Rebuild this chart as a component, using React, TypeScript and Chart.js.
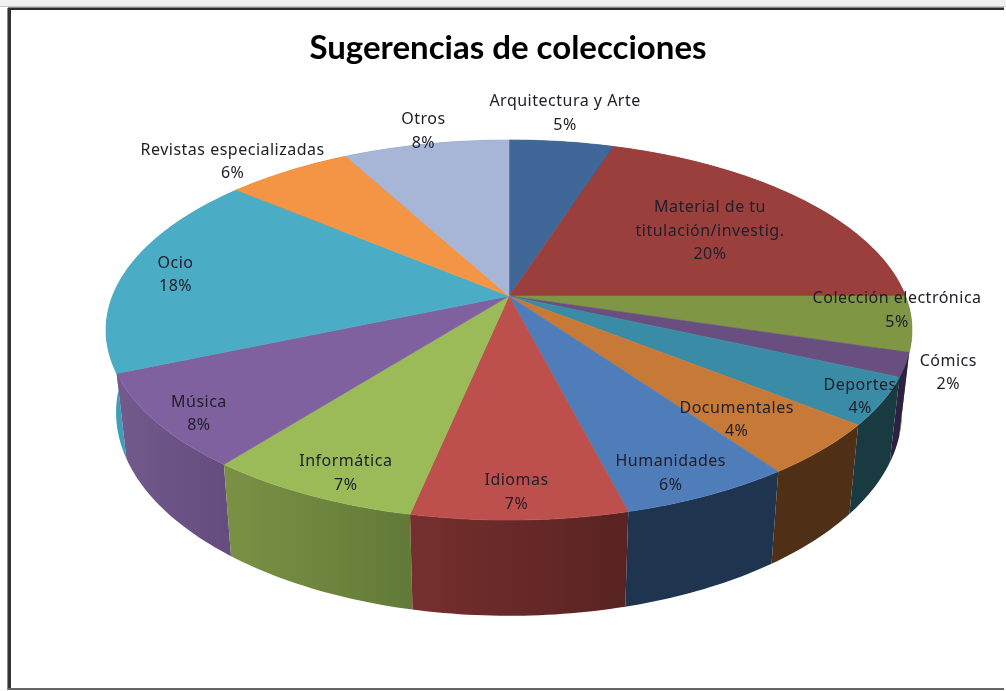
import React, { useEffect, useRef } from "react";
import { Chart, registerables } from "chart.js";

Chart.register(...registerables);

const titleText = "Sugerencias de colecciones";
const categories = [
  "Arquitectura y Arte",
  "Material de tu\ntitulación/investig.",
  "Colección electrónica",
  "Cómics",
  "Deportes",
  "Documentales",
  "Humanidades",
  "Idiomas",
  "Informática",
  "Música",
  "Ocio",
  "Revistas especializadas",
  "Otros",
];
const shares = [5, 20, 4.7, 2, 4, 4.45, 5.85, 7.3, 7.3, 8, 17.5, 6, 7.9];
const topColors = [
  "#3f6797", "#9b3f3c", "#7f9744", "#694f80", "#3a8ba5", "#c77a38", "#4f7dba",
  "#bd4f4d", "#9bbb59", "#7f619f", "#4bacc6", "#f39545", "#a7b6d6",
];
const wallStartColors = [
  "#2a4565", "#682a28", "#4f6028", "#2c2140", "#193a40", "#4f3016", "#1f344f",
  "#762f2e", "#7a9145", "#735a8c", "#3f9fb8", "#a06028", "#7080a0",
];
const wallEndColors = [
  "#2a4565", "#682a28", "#4f6028", "#2c2140", "#193a40", "#4f3016", "#1f344f",
  "#582322", "#627a38", "#654c7e", "#3a9ab0", "#a06028", "#7080a0",
];
// label block offset from the slice's mid-angle point at 3/4 radius
const labelDx = [15, -22, 88, 147, 78, 1, 19, 0, -20, -53, -45, -106, -21];
const labelDy = [-62, 10.5, -6.5, 26, 24, 13, 35, 37, 35, 26.5, -1, -37, -46];

const view = { cx: 509, cy: 296, rx: 396.5, ry: 184, tilt: 0.179 };

function project(angle: number, r: number) {
  // Chart.js arc angles start at -PI/2 (12 o'clock)
  const th = angle + Math.PI / 2;
  const u = r * Math.sin(th);
  const v = -r * Math.cos(th);
  const w = 1 - view.tilt * v;
  return { x: view.cx + (view.rx * u) / w, y: view.cy + (view.ry * v) / w };
}
function lower(p: { x: number; y: number }) {
  return { x: view.cx + 0.975 * (p.x - view.cx), y: p.y + 80 + 0.07 * (p.y - view.cy) };
}
function rim(a: number, b: number) {
  const n = Math.max(2, Math.ceil(((b - a) * 180) / Math.PI));
  const pts = [];
  for (let i = 0; i <= n; i++) pts.push(project(a + ((b - a) * i) / n, 1));
  return pts;
}

const pie3d = {
  id: "pie3d",
  beforeDraw(chart: any) {
    const { ctx, width, height } = chart;
    ctx.save();
    ctx.fillStyle = "#ffffff";
    ctx.fillRect(0, 0, width, height);
    ctx.fillStyle = "#f1f1f1";
    ctx.fillRect(0, 0, width, 6);
    ctx.fillStyle = "#c8c8c8";
    ctx.fillRect(0, 6, width, 1);
    ctx.fillStyle = "#2e2e2e";
    ctx.fillRect(8, 8, width - 10, 2);
    ctx.fillStyle = "#8a8a8a";
    ctx.fillRect(8, 7, width - 10, 1);
    ctx.fillRect(7, 8, 1, height - 9);
    ctx.fillStyle = "#333333";
    ctx.fillRect(8, 8, 3, height - 10);
    ctx.fillStyle = "#666666";
    ctx.fillRect(8, height - 3, width - 10, 2);
    ctx.restore();
  },
  beforeDatasetsDraw(chart: any) {
    const { ctx } = chart;
    const arcs = chart.getDatasetMeta(0).data;
    const total = shares.reduce((s, v) => s + v, 0);

    // side walls, back to front
    const order = arcs
      .map((_: any, i: number) => i)
      .sort((a: number, b: number) => {
        const pa = project((arcs[a].startAngle + arcs[a].endAngle) / 2, 1).y;
        const pb = project((arcs[b].startAngle + arcs[b].endAngle) / 2, 1).y;
        return pa - pb;
      });
    ctx.save();
    order.forEach((i: number) => {
      const pts = rim(arcs[i].startAngle, arcs[i].endAngle);
      const low = pts.map(lower);
      const xs = pts.concat(low).map((p) => p.x);
      const g = ctx.createLinearGradient(Math.min(...xs), 0, Math.max(...xs), 0);
      g.addColorStop(0, wallStartColors[i]);
      g.addColorStop(1, wallEndColors[i]);
      ctx.beginPath();
      pts.forEach((p, k) => (k ? ctx.lineTo(p.x, p.y) : ctx.moveTo(p.x, p.y)));
      low.reverse().forEach((p) => ctx.lineTo(p.x, p.y));
      ctx.closePath();
      ctx.fillStyle = g;
      ctx.fill();
    });

    // top faces
    arcs.forEach((arc: any, i: number) => {
      const pts = rim(arc.startAngle, arc.endAngle);
      ctx.beginPath();
      ctx.moveTo(view.cx, view.cy);
      pts.forEach((p) => ctx.lineTo(p.x, p.y));
      ctx.closePath();
      ctx.fillStyle = topColors[i];
      ctx.strokeStyle = topColors[i];
      ctx.lineWidth = 0.6;
      ctx.fill();
      ctx.stroke();
    });

    // labels
    ctx.fillStyle = "#20202a";
    ctx.font = '16px "Noto Sans"';
    ctx.letterSpacing = "0.5px";
    ctx.textAlign = "center";
    ctx.textBaseline = "middle";
    arcs.forEach((arc: any, i: number) => {
      const p = project((arc.startAngle + arc.endAngle) / 2, 0.75);
      const lines = categories[i].split("\n");
      lines.push(Math.round((shares[i] / total) * 100) + "%");
      const lh = 23.5;
      const x = p.x + labelDx[i];
      const y0 = p.y + labelDy[i] - ((lines.length - 1) * lh) / 2;
      lines.forEach((t, k) => ctx.fillText(t, x, y0 + k * lh));
    });
    ctx.restore();
    return false;
  },
};

export default function App() {
  const ref = useRef<HTMLCanvasElement | null>(null);
  useEffect(() => {
    const chart = new Chart(ref.current as HTMLCanvasElement, {
      type: "pie",
      data: {
        labels: categories.map((c) => c.replace("\n", " ")),
        datasets: [{ data: shares, backgroundColor: topColors, borderWidth: 0 }],
      },
      options: {
        animation: false,
        responsive: false,
        layout: { padding: { left: 10 } },
        plugins: {
          legend: { display: false },
          tooltip: { enabled: false },
          title: {
            display: true,
            text: titleText,
            color: "#000000",
            font: { family: "Lato", size: 33, weight: "bold" },
            padding: { top: 29, bottom: 10 },
          },
        },
      },
      plugins: [pie3d],
    } as any);
    return () => chart.destroy();
  }, []);
  return (
    <div style={{ position: "absolute", left: 0, top: 0, width: 1006, height: 691 }}>
      <canvas ref={ref} width={1006} height={691} style={{ display: "block" }} />
    </div>
  );
}
